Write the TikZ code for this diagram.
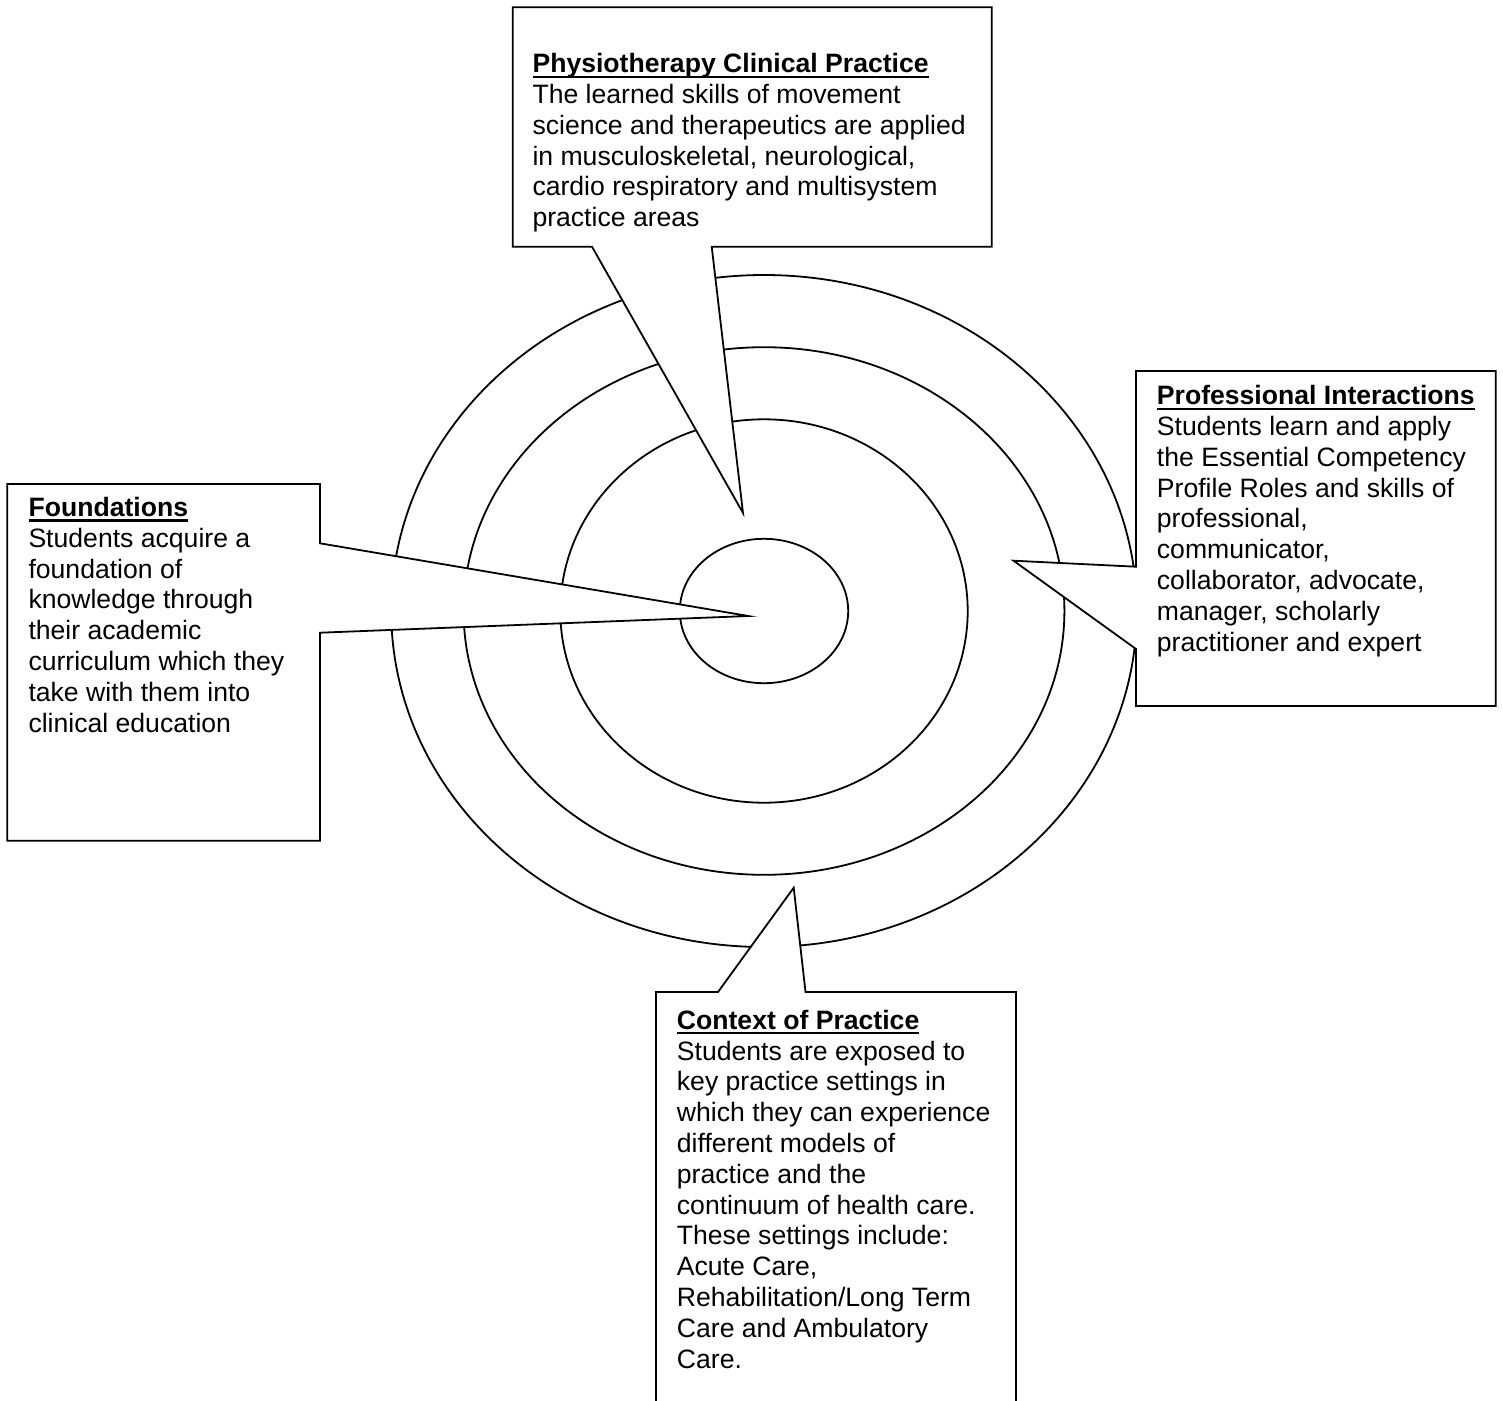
\documentclass[tikz,border=0pt]{standalone}
\usepackage{fontspec}
\setmainfont{Liberation Sans}
\newcommand\ttl[1]{\setbox0=\hbox{\bfseries #1}\rlap{\rule[-5.1pt]{\wd0}{2.2pt}}\box0}
\begin{document}
\begin{tikzpicture}[x=1pt,y=-1pt,
  ring/.style={draw=black,line width=1.8pt},
  callout/.style={draw=black,fill=white,line width=1.8pt,line join=miter},
  txt/.style={anchor=base west,align=left,inner sep=0pt,font=\fontsize{26.6}{30.8}\selectfont}]
\useasboundingbox[fill=white] (0,0) rectangle (1503,1400);
% rings
\coordinate (c) at (764,611);
\draw[ring] (c) ellipse [x radius=372.8pt, y radius=336pt];
\draw[ring] (c) ellipse [x radius=300.4pt, y radius=263.8pt];
\draw[ring] (c) ellipse [x radius=203.7pt, y radius=191.7pt];
\draw[ring] (c) ellipse [x radius=84.2pt, y radius=72.2pt];
% callouts
\draw[callout] (512.7,7.3) -- (991.7,7.3) -- (991.7,246.7) -- (711.7,246.7) -- (743,513) -- (592,246.7) -- (512.7,246.7) -- cycle;
\draw[callout] (7.3,484) -- (320,484) -- (320,543.3) -- (748.3,616) -- (320,632.7) -- (320,840.7) -- (7.3,840.7) -- cycle;
\draw[callout] (1136,371) -- (1495.7,371) -- (1495.7,706) -- (1136,706) -- (1136,649) -- (1013.5,560.7) -- (1136,566.7) -- cycle;
\draw[callout] (656,992) -- (718,992) -- (793.7,887.7) -- (805.5,992) -- (1016,992) -- (1016,1410) -- (656,1410) -- cycle;
% texts (anchored at the baseline of the last line)
\node[txt] (pcp) at (532.3,226.7) {\ttl{Physiotherapy Clinical Practice}\\
The learned skills of movement\\
science and therapeutics are applied\\
in musculoskeletal, neurological,\\
cardio respiratory and multisystem\\
practice areas};
\node[txt] (pi) at (1156.7,651) {\ttl{Professional Interactions}\\
Students learn and apply\\
the Essential Competency\\
Profile Roles and skills of\\
professional,\\
communicator,\\
collaborator, advocate,\\
manager, scholarly\\
practitioner and expert};
\node[txt] (fd) at (28.3,732) {\ttl{Foundations}\\
Students acquire a\\
foundation of\\
knowledge through\\
their academic\\
curriculum which they\\
take with them into\\
clinical education};
\node[txt] (cp) at (676.7,1368) {\ttl{Context of Practice}\\
Students are exposed to\\
key practice settings in\\
which they can experience\\
different models of\\
practice and the\\
continuum of health care.\\
These settings include:\\
Acute Care,\\
Rehabilitation/Long Term\\
Care and Ambulatory\\
Care.};
\end{tikzpicture}
\end{document}
